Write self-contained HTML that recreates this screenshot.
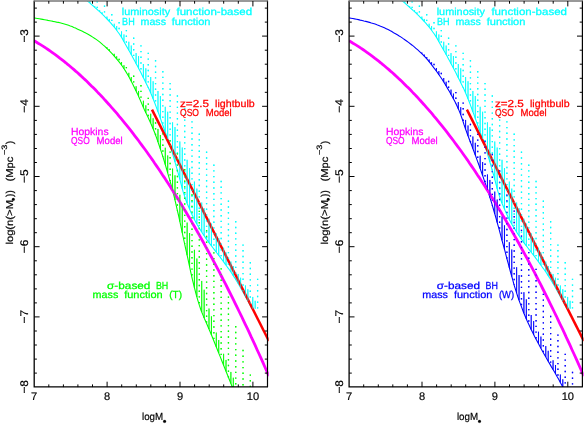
<!DOCTYPE html>
<html><head><meta charset="utf-8"><title>BH mass function</title>
<style>html,body{margin:0;padding:0;background:#fff}svg{display:block}</style></head>
<body>
<svg width="585" height="424" viewBox="0 0 585 424" font-family="'Liberation Sans', sans-serif" font-size="9.8" fill="#000" text-rendering="geometricPrecision">
<rect width="585" height="424" fill="#fff"/>
<g opacity="0.999">
<clipPath id="clip0"><rect x="34.2" y="1.0" width="234.5" height="386.1"/></clipPath>
<g clip-path="url(#clip0)">
<path d="M106.95,47.2V48.4M109.38,49.2V50.9M114.24,53.8V56.1M116.67,56.3V58.9M121.53,62.0V65.2M123.96,65.2V68.7M128.82,72.8V76.7M131.25,77.1V81.3M136.11,86.2V91.1M138.54,90.9V96.2M143.40,100.7V107.4M145.83,105.3V112.7M150.69,113.7V122.9M153.12,118.2V128.7M157.98,128.9V141.9M160.41,135.0V149.1M165.27,147.7V164.6M167.70,155.4V172.8M172.56,168.6V190.4M174.99,175.3V200.0M179.85,194.8V221.5M182.28,205.4V232.8M187.14,222.6V255.2M189.57,233.0V266.6M194.43,249.8V287.8M196.86,258.5V296.9M201.72,280.9V312.1M204.15,289.7V318.0M209.01,308.5V329.0M211.44,316.3V334.9M216.30,332.6V346.9M218.73,340.0V353.0M223.59,353.8V365.2M226.02,359.9V371.3M230.88,371.9V383.5M233.31,377.7V387.1" stroke="#0f0" stroke-width="0.9" fill="none"/>
<path d="M119.10,58.8V61.9M126.39,66.9V72.5M133.68,75.5V86.1M140.97,85.0V101.8M148.26,97.7V117.7M155.55,122.3V135.1M162.84,133.2V156.6M170.13,140.0V181.5M177.42,153.0V210.4M184.71,169.1V244.1M192.00,194.3V277.6M199.29,210.7V305.1M206.58,230.1V323.4M213.87,252.2V340.9M221.16,268.2V359.1M228.45,296.4V377.4M235.74,326.1V387.1M243.03,349.8V387.1M250.32,374.4V387.1" stroke="#0f0" stroke-width="1.3" stroke-dasharray="1.4 4.3" fill="none"/>
<path d="M34.2,17.9 L35.9,18.2 L37.6,18.5 L39.4,18.8 L41.1,19.1 L42.8,19.4 L44.5,19.7 L46.2,20.0 L48.0,20.4 L49.7,20.7 L51.4,21.0 L53.1,21.4 L54.9,21.7 L56.6,22.1 L58.3,22.4 L60.0,22.8 L61.7,23.2 L63.5,23.7 L65.2,24.2 L66.9,24.7 L68.6,25.3 L70.3,26.0 L72.1,26.6 L73.8,27.4 L75.5,28.1 L77.2,28.9 L78.9,29.7 L80.7,30.5 L82.4,31.3 L84.1,32.2 L85.8,33.1 L87.6,34.0 L89.3,35.0 L91.0,36.0 L92.7,37.1 L94.4,38.2 L96.2,39.4 L97.9,40.6 L99.6,41.9 L101.3,43.3 L103.0,44.8 L104.8,46.3 L106.5,48.0 L108.2,49.7 L109.9,51.4 L111.6,53.2 L113.4,55.1 L115.1,57.1 L116.8,59.1 L118.5,61.2 L120.3,63.4 L122.0,65.8 L123.7,68.3 L125.4,70.9 L127.1,73.7 L128.9,76.8 L130.6,80.0 L132.3,83.3 L134.0,86.8 L135.7,90.3 L137.5,93.9 L139.2,97.7 L140.9,101.6 L142.6,105.6 L144.3,109.5 L146.1,113.2 L147.8,116.8 L149.5,120.4 L151.2,124.2 L152.9,128.3 L154.7,132.7 L156.4,137.4 L158.1,142.3 L159.8,147.3 L161.6,152.6 L163.3,158.0 L165.0,163.6 L166.7,169.5 L168.4,175.4 L170.2,181.6 L171.9,187.9 L173.6,194.4 L175.3,201.3 L177.0,208.8 L178.8,216.5 L180.5,224.4 L182.2,232.5 L183.9,240.5 L185.6,248.4 L187.4,256.3 L189.1,264.4 L190.8,272.3 L192.5,279.9 L194.3,287.1 L196.0,293.8 L197.7,299.8 L199.4,305.4 L201.1,310.5 L202.9,314.9 L204.6,319.0 L206.3,322.8 L208.0,326.7 L209.7,330.8 L211.5,335.0 L213.2,339.2 L214.9,343.5 L216.6,347.8 L218.3,352.1 L220.1,356.4 L221.8,360.7 L223.5,365.0 L225.2,369.3 L227.0,373.7 L228.7,378.0 L230.4,382.3 L232.1,386.5 L233.8,390.8 L235.6,395.1 L237.3,399.3 L239.0,403.5" stroke="#0f0" stroke-width="1.1" fill="none"/>
<path d="M94.80,6.3V7.3M99.66,10.2V11.7M102.09,12.3V14.0M106.95,16.6V18.9M109.38,18.9V21.5M114.24,23.7V27.1M116.67,26.1V30.2M121.53,31.3V37.3M123.96,34.4V41.5M128.82,41.7V50.2M131.25,45.5V54.6M136.11,53.1V63.5M138.54,56.1V68.2M143.40,64.0V77.7M145.83,68.3V82.6M150.69,77.0V93.0M153.12,81.2V98.7M157.98,91.0V111.7M160.41,96.1V118.5M165.27,106.8V132.1M167.70,111.7V138.9M172.56,122.3V153.7M174.99,127.1V161.9M179.85,141.5V179.3M182.28,147.5V188.8M187.14,159.8V203.2M189.57,168.0V209.2M194.43,181.6V219.4M196.86,188.6V224.0M201.72,202.5V232.0M204.15,208.2V235.7M209.01,218.7V242.7M211.44,223.6V245.9M216.30,233.3V252.1M218.73,238.1V255.3M223.59,247.7V261.9M226.02,252.4V265.2M230.88,261.6V272.0M233.31,266.0V275.7M238.17,273.9V283.6M240.60,277.7V287.8M245.46,285.4V296.6M247.89,289.2V301.0M252.75,296.9V308.8M255.18,300.8V308.8" stroke="#0ff" stroke-width="0.9" fill="none"/>
<path d="M89.94,1.0V3.1M97.23,1.0V9.5M104.52,5.5V16.4M111.81,14.0V24.2M119.10,22.1V33.6M126.39,29.9V45.8M133.68,37.6V59.0M140.97,45.2V72.9M148.26,52.7V87.6M155.55,60.1V105.0M162.84,71.0V125.3M170.13,82.9V146.1M177.42,95.3V170.5M184.71,108.0V196.6M192.00,121.2V214.5M199.29,133.5V228.1M206.58,151.6V239.2M213.87,164.5V249.0M221.16,180.8V258.6M228.45,200.6V268.5M235.74,221.1V279.5M243.03,244.4V292.1M250.32,262.1V305.5M257.61,278.7V308.8" stroke="#0ff" stroke-width="1.3" stroke-dasharray="1.4 4.3" fill="none"/>
<path d="M84.0,-1.8 L85.4,-0.7 L86.8,0.5 L88.2,1.7 L89.7,2.9 L91.1,4.1 L92.5,5.3 L93.9,6.5 L95.3,7.8 L96.7,9.0 L98.1,10.3 L99.6,11.6 L101.0,12.9 L102.4,14.3 L103.8,15.6 L105.2,17.1 L106.6,18.5 L108.0,20.0 L109.5,21.6 L110.9,23.1 L112.3,24.8 L113.7,26.5 L115.1,28.2 L116.5,30.0 L117.9,32.0 L119.4,34.0 L120.8,36.1 L122.2,38.4 L123.6,40.9 L125.0,43.4 L126.4,45.9 L127.8,48.5 L129.3,51.0 L130.7,53.5 L132.1,56.1 L133.5,58.7 L134.9,61.3 L136.3,64.0 L137.7,66.6 L139.2,69.4 L140.6,72.1 L142.0,74.9 L143.4,77.7 L144.8,80.5 L146.2,83.4 L147.6,86.3 L149.1,89.3 L150.5,92.5 L151.9,95.7 L153.3,99.2 L154.7,102.8 L156.1,106.6 L157.5,110.5 L159.0,114.4 L160.4,118.4 L161.8,122.4 L163.2,126.3 L164.6,130.2 L166.0,134.2 L167.4,138.2 L168.9,142.3 L170.3,146.5 L171.7,150.9 L173.1,155.5 L174.5,160.3 L175.9,165.2 L177.3,170.2 L178.8,175.3 L180.2,180.5 L181.6,186.1 L183.0,191.4 L184.4,195.7 L185.8,199.7 L187.2,203.5 L188.7,207.0 L190.1,210.3 L191.5,213.4 L192.9,216.4 L194.3,219.2 L195.7,221.9 L197.1,224.5 L198.6,226.9 L200.0,229.2 L201.4,231.5 L202.8,233.7 L204.2,235.8 L205.6,237.9 L207.0,239.9 L208.5,241.9 L209.9,243.9 L211.3,245.7 L212.7,247.5 L214.1,249.3 L215.5,251.1 L216.9,253.0 L218.4,254.9 L219.8,256.7 L221.2,258.6 L222.6,260.5 L224.0,262.4 L225.4,264.3 L226.8,266.3 L228.3,268.3 L229.7,270.3 L231.1,272.3 L232.5,274.4 L233.9,276.6 L235.3,278.8 L236.7,281.2 L238.2,283.5 L239.6,286.0 L241.0,288.5 L242.4,291.0 L243.8,293.6 L245.2,296.1 L246.6,298.7 L248.1,301.3 L249.5,303.9 L250.9,306.5 L252.3,308.8" stroke="#0ff" stroke-width="1.1" fill="none"/>
<path d="M34.2,40.8 L36.2,42.0 L38.1,43.2 L40.1,44.4 L42.1,45.6 L44.1,46.9 L46.0,48.2 L48.0,49.5 L50.0,50.9 L52.0,52.3 L53.9,53.7 L55.9,55.1 L57.9,56.6 L59.8,58.1 L61.8,59.6 L63.8,61.2 L65.8,62.8 L67.7,64.4 L69.7,66.0 L71.7,67.7 L73.7,69.4 L75.6,71.1 L77.6,72.8 L79.6,74.6 L81.6,76.4 L83.5,78.3 L85.5,80.1 L87.5,82.0 L89.4,83.9 L91.4,85.9 L93.4,87.8 L95.4,89.8 L97.3,91.9 L99.3,93.9 L101.3,96.0 L103.3,98.1 L105.2,100.3 L107.2,102.5 L109.2,104.7 L111.1,106.9 L113.1,109.1 L115.1,111.4 L117.1,113.7 L119.0,116.1 L121.0,118.4 L123.0,120.8 L125.0,123.3 L126.9,125.7 L128.9,128.2 L130.9,130.7 L132.8,133.2 L134.8,135.8 L136.8,138.4 L138.8,141.0 L140.7,143.7 L142.7,146.3 L144.7,149.0 L146.7,151.8 L148.6,154.5 L150.6,157.3 L152.6,160.1 L154.5,163.0 L156.5,165.9 L158.5,168.8 L160.5,171.7 L162.4,174.7 L164.4,177.6 L166.4,180.7 L168.4,183.7 L170.3,186.8 L172.3,189.9 L174.3,193.0 L176.3,196.2 L178.2,199.3 L180.2,202.5 L182.2,205.8 L184.1,209.1 L186.1,212.3 L188.1,215.7 L190.1,219.0 L192.0,222.4 L194.0,225.8 L196.0,229.2 L198.0,232.7 L199.9,236.2 L201.9,239.7 L203.9,243.3 L205.8,246.9 L207.8,250.5 L209.8,254.1 L211.8,257.7 L213.7,261.4 L215.7,265.2 L217.7,268.9 L219.7,272.7 L221.6,276.5 L223.6,280.3 L225.6,284.2 L227.5,288.0 L229.5,292.0 L231.5,295.9 L233.5,299.9 L235.4,303.9 L237.4,307.9 L239.4,312.0 L241.4,316.0 L243.3,320.1 L245.3,324.3 L247.3,328.4 L249.3,332.6 L251.2,336.9 L253.2,341.1 L255.2,345.4 L257.1,349.7 L259.1,354.0 L261.1,358.4 L263.1,362.8 L265.0,367.2 L267.0,371.7 L269.0,376.1" stroke="#f0f" stroke-width="2.8" fill="none"/>
<path d="M152.0,109.6L268.9,340.98" stroke="#f00" stroke-width="2.5" fill="none"/>
<g opacity="0.62"><path d="M94.80,6.3V7.3M99.66,10.2V11.7M102.09,12.3V14.0M106.95,16.6V18.9M109.38,18.9V21.5M114.24,23.7V27.1M116.67,26.1V30.2M121.53,31.3V37.3M123.96,34.4V41.5M128.82,41.7V50.2M131.25,45.5V54.6M136.11,53.1V63.5M138.54,56.1V68.2M143.40,64.0V77.7M145.83,68.3V82.6M150.69,77.0V93.0M153.12,81.2V98.7M157.98,91.0V111.7M160.41,96.1V118.5M165.27,106.8V132.1M167.70,111.7V138.9M172.56,122.3V153.7M174.99,127.1V161.9M179.85,141.5V179.3M182.28,147.5V188.8M187.14,159.8V203.2M189.57,168.0V209.2M194.43,181.6V219.4M196.86,188.6V224.0M201.72,202.5V232.0M204.15,208.2V235.7M209.01,218.7V242.7M211.44,223.6V245.9M216.30,233.3V252.1M218.73,238.1V255.3M223.59,247.7V261.9M226.02,252.4V265.2M230.88,261.6V272.0M233.31,266.0V275.7M238.17,273.9V283.6M240.60,277.7V287.8M245.46,285.4V296.6M247.89,289.2V301.0M252.75,296.9V308.8M255.18,300.8V308.8" stroke="#0ff" stroke-width="1.1" fill="none"/><path d="M89.94,1.0V3.1M97.23,1.0V9.5M104.52,5.5V16.4M111.81,14.0V24.2M119.10,22.1V33.6M126.39,29.9V45.8M133.68,37.6V59.0M140.97,45.2V72.9M148.26,52.7V87.6M155.55,60.1V105.0M162.84,71.0V125.3M170.13,82.9V146.1M177.42,95.3V170.5M184.71,108.0V196.6M192.00,121.2V214.5M199.29,133.5V228.1M206.58,151.6V239.2M213.87,164.5V249.0M221.16,180.8V258.6M228.45,200.6V268.5M235.74,221.1V279.5M243.03,244.4V292.1M250.32,262.1V305.5M257.61,278.7V308.8" stroke="#0ff" stroke-width="1.3" stroke-dasharray="1.4 4.3" fill="none"/><path d="M106.95,47.2V48.4M109.38,49.2V50.9M114.24,53.8V56.1M116.67,56.3V58.9M121.53,62.0V65.2M123.96,65.2V68.7M128.82,72.8V76.7M131.25,77.1V81.3M136.11,86.2V91.1M138.54,90.9V96.2M143.40,100.7V107.4M145.83,105.3V112.7M150.69,113.7V122.9M153.12,118.2V128.7M157.98,128.9V141.9M160.41,135.0V149.1M165.27,147.7V164.6M167.70,155.4V172.8M172.56,168.6V190.4M174.99,175.3V200.0M179.85,194.8V221.5M182.28,205.4V232.8M187.14,222.6V255.2M189.57,233.0V266.6M194.43,249.8V287.8M196.86,258.5V296.9M201.72,280.9V312.1M204.15,289.7V318.0M209.01,308.5V329.0M211.44,316.3V334.9M216.30,332.6V346.9M218.73,340.0V353.0M223.59,353.8V365.2M226.02,359.9V371.3M230.88,371.9V383.5M233.31,377.7V387.1" stroke="#0f0" stroke-width="1.1" fill="none"/><path d="M119.10,58.8V61.9M126.39,66.9V72.5M133.68,75.5V86.1M140.97,85.0V101.8M148.26,97.7V117.7M155.55,122.3V135.1M162.84,133.2V156.6M170.13,140.0V181.5M177.42,153.0V210.4M184.71,169.1V244.1M192.00,194.3V277.6M199.29,210.7V305.1M206.58,230.1V323.4M213.87,252.2V340.9M221.16,268.2V359.1M228.45,296.4V377.4M235.74,326.1V387.1M243.03,349.8V387.1M250.32,374.4V387.1" stroke="#0f0" stroke-width="1.3" stroke-dasharray="1.4 4.3" fill="none"/></g>
</g>
<text transform="translate(0,15.4) scale(1,1.2)" fill="#0ff" stroke="#0ff" stroke-width="0.22" font-size="8.5"><tspan x="121.8" textLength="48.3" lengthAdjust="spacingAndGlyphs">luminosity</tspan> <tspan x="176.5" textLength="75.6" lengthAdjust="spacingAndGlyphs">function-based</tspan></text>
<text transform="translate(0,24.9) scale(1,1.2)" fill="#0ff" stroke="#0ff" stroke-width="0.22" font-size="8.5"><tspan x="122.1" textLength="12.6" lengthAdjust="spacingAndGlyphs">BH</tspan> <tspan x="140.6" textLength="25.4" lengthAdjust="spacingAndGlyphs">mass</tspan> <tspan x="171.8" textLength="38.7" lengthAdjust="spacingAndGlyphs">function</tspan></text>
<text transform="translate(0,106.6) scale(1,1.2)" fill="#f00" stroke="#f00" stroke-width="0.22" font-size="8.5"><tspan x="180.0" textLength="29.0" lengthAdjust="spacingAndGlyphs">z=2.5</tspan> <tspan x="215.1" textLength="39.6" lengthAdjust="spacingAndGlyphs">lightbulb</tspan></text>
<text transform="translate(0,115.5) scale(1,1.2)" fill="#f00" stroke="#f00" stroke-width="0.22" font-size="8.5"><tspan x="180.0" textLength="19.0" lengthAdjust="spacingAndGlyphs">QSO</tspan> <tspan x="205.7" textLength="26.0" lengthAdjust="spacingAndGlyphs">Model</tspan></text>
<text transform="translate(0,134.8) scale(1,1.2)" fill="#f0f" stroke="#f0f" stroke-width="0.22" font-size="8.5"><tspan x="71.0" textLength="37.6" lengthAdjust="spacingAndGlyphs">Hopkins</tspan></text>
<text transform="translate(0,144.0) scale(1,1.2)" fill="#f0f" stroke="#f0f" stroke-width="0.22" font-size="8.5"><tspan x="71.0" textLength="18.7" lengthAdjust="spacingAndGlyphs">QSO</tspan> <tspan x="96.6" textLength="26.1" lengthAdjust="spacingAndGlyphs">Model</tspan></text>
<text transform="translate(0,289.2) scale(1,1.2)" fill="#0f0" stroke="#0f0" stroke-width="0.22" font-size="8.5"><tspan x="107.1" textLength="43.3" lengthAdjust="spacingAndGlyphs">σ-based</tspan> <tspan x="155.9" textLength="12.4" lengthAdjust="spacingAndGlyphs">BH</tspan></text>
<text transform="translate(0,298.2) scale(1,1.2)" fill="#0f0" stroke="#0f0" stroke-width="0.22" font-size="8.5"><tspan x="92.6" textLength="25.7" lengthAdjust="spacingAndGlyphs">mass</tspan> <tspan x="124.2" textLength="38.5" lengthAdjust="spacingAndGlyphs">function</tspan> <tspan x="169.2" textLength="12.8" lengthAdjust="spacingAndGlyphs">(T)</tspan></text>
<path d="M34.2,0.4V386.9H268.0" fill="none" stroke="#000" stroke-width="1.3" stroke-linejoin="miter"/>
<path d="M267.5,0.4V387.1" fill="none" stroke="#000" stroke-width="1.2"/>
<path d="M34.2,1.1H267.5" fill="none" stroke="#777" stroke-width="1.5"/>
<path d="M48.8,387.1v-2.7M48.8,1.0v2.7M63.4,387.1v-2.7M63.4,1.0v2.7M77.9,387.1v-2.7M77.9,1.0v2.7M92.5,387.1v-2.7M92.5,1.0v2.7M107.1,387.1v-5.4M107.1,1.0v5.4M121.7,387.1v-2.7M121.7,1.0v2.7M136.3,387.1v-2.7M136.3,1.0v2.7M150.8,387.1v-2.7M150.8,1.0v2.7M165.4,387.1v-2.7M165.4,1.0v2.7M180.0,387.1v-5.4M180.0,1.0v5.4M194.6,387.1v-2.7M194.6,1.0v2.7M209.2,387.1v-2.7M209.2,1.0v2.7M223.7,387.1v-2.7M223.7,1.0v2.7M238.3,387.1v-2.7M238.3,1.0v2.7M252.9,387.1v-5.4M252.9,1.0v5.4M34.2,373.1h2.7M267.5,373.1h-2.7M34.2,359.1h2.7M267.5,359.1h-2.7M34.2,345.0h2.7M267.5,345.0h-2.7M34.2,331.0h2.7M267.5,331.0h-2.7M34.2,316.9h5.4M267.5,316.9h-5.4M34.2,302.9h2.7M267.5,302.9h-2.7M34.2,288.9h2.7M267.5,288.9h-2.7M34.2,274.8h2.7M267.5,274.8h-2.7M34.2,260.8h2.7M267.5,260.8h-2.7M34.2,246.7h5.4M267.5,246.7h-5.4M34.2,232.7h2.7M267.5,232.7h-2.7M34.2,218.7h2.7M267.5,218.7h-2.7M34.2,204.6h2.7M267.5,204.6h-2.7M34.2,190.6h2.7M267.5,190.6h-2.7M34.2,176.5h5.4M267.5,176.5h-5.4M34.2,162.5h2.7M267.5,162.5h-2.7M34.2,148.5h2.7M267.5,148.5h-2.7M34.2,134.4h2.7M267.5,134.4h-2.7M34.2,120.4h2.7M267.5,120.4h-2.7M34.2,106.3h5.4M267.5,106.3h-5.4M34.2,92.3h2.7M267.5,92.3h-2.7M34.2,78.3h2.7M267.5,78.3h-2.7M34.2,64.2h2.7M267.5,64.2h-2.7M34.2,50.2h2.7M267.5,50.2h-2.7M34.2,36.1h5.4M267.5,36.1h-5.4M34.2,22.1h2.7M267.5,22.1h-2.7M34.2,8.1h2.7M267.5,8.1h-2.7" stroke="#000" stroke-width="1" fill="none"/>
<g stroke="#000" stroke-width="0.2">
<text x="34.2" y="400.1" font-size="11.1" text-anchor="middle">7</text>
<text x="107.1" y="400.1" font-size="11.1" text-anchor="middle">8</text>
<text x="180.0" y="400.1" font-size="11.1" text-anchor="middle">9</text>
<text x="252.9" y="400.1" font-size="11.1" text-anchor="middle">10</text>
<text transform="translate(28.0,35.8) rotate(-90)" font-size="11.1" text-anchor="middle" textLength="13.6" lengthAdjust="spacingAndGlyphs">−3</text>
<text transform="translate(28.0,106.0) rotate(-90)" font-size="11.1" text-anchor="middle" textLength="13.6" lengthAdjust="spacingAndGlyphs">−4</text>
<text transform="translate(28.0,176.2) rotate(-90)" font-size="11.1" text-anchor="middle" textLength="13.6" lengthAdjust="spacingAndGlyphs">−5</text>
<text transform="translate(28.0,246.4) rotate(-90)" font-size="11.1" text-anchor="middle" textLength="13.6" lengthAdjust="spacingAndGlyphs">−6</text>
<text transform="translate(28.0,316.6) rotate(-90)" font-size="11.1" text-anchor="middle" textLength="13.6" lengthAdjust="spacingAndGlyphs">−7</text>
<text transform="translate(28.0,386.8) rotate(-90)" font-size="11.1" text-anchor="middle" textLength="13.6" lengthAdjust="spacingAndGlyphs">−8</text>
<text x="142.0" y="420.3" font-size="10.3" textLength="21.2" lengthAdjust="spacingAndGlyphs">logM</text>
<circle cx="164.6" cy="421.4" r="1.45" fill="#000"/>
<g transform="translate(12.7,244.6) rotate(-90)" font-size="10"><text x="0" y="0" textLength="44.6" lengthAdjust="spacingAndGlyphs">log(n(&gt;M</text><circle cx="45.2" cy="0.6" r="1.4" fill="#000"/><text x="47.6" y="0" textLength="6.8" lengthAdjust="spacingAndGlyphs">))</text><text x="63.1" y="0" textLength="24.9" lengthAdjust="spacingAndGlyphs">(Mpc</text><text x="89.6" y="-5.9" font-size="7.8" textLength="10.4" lengthAdjust="spacingAndGlyphs">−3</text><text x="100.4" y="0" textLength="3.5" lengthAdjust="spacingAndGlyphs">)</text></g>
</g>
<clipPath id="clip314"><rect x="349.1" y="1.0" width="234.5" height="386.1"/></clipPath>
<g clip-path="url(#clip314)">
<path d="M421.85,52.5V53.8M424.28,54.6V56.2M429.14,59.4V61.7M431.57,62.2V64.8M436.43,68.0V71.2M438.86,71.1V74.6M443.72,78.0V81.9M446.15,81.7V85.9M451.01,89.6V94.4M453.44,93.6V98.9M458.30,102.1V108.8M460.73,107.2V114.7M465.59,119.9V129.1M468.02,125.4V135.8M472.88,136.5V148.6M475.31,142.8V155.1M480.17,155.7V168.5M482.60,162.0V175.4M487.46,174.4V189.9M489.89,179.9V197.5M494.75,191.6V213.7M497.18,199.5V222.4M502.04,216.6V240.3M504.47,225.3V249.4M509.33,242.2V267.7M511.76,249.5V276.5M516.62,267.2V293.1M519.05,275.0V300.2M523.91,292.2V313.2M526.34,299.3V319.0M531.20,315.0V329.5M533.63,321.1V334.5M538.49,331.7V343.8M540.92,336.6V348.3M545.78,346.1V356.9M548.21,350.8V361.2M553.07,360.3V369.6M555.50,365.0V373.8M560.36,374.5V382.5M562.79,379.3V387.0" stroke="#00f" stroke-width="0.9" fill="none"/>
<path d="M426.71,57.2V58.9M434.00,63.8V68.0M441.29,72.8V78.1M448.58,80.8V90.1M455.87,91.9V103.6M463.16,102.4V121.9M470.45,123.8V142.2M477.74,133.7V161.8M485.03,140.8V182.6M492.32,153.8V205.4M499.61,170.3V231.2M506.90,194.6V258.6M514.19,210.4V285.1M521.48,229.7V307.0M528.77,251.9V324.4M536.06,268.7V339.2M543.35,293.7V352.6M550.64,315.8V365.4M557.93,334.4V378.1M565.22,353.7V387.1M572.51,371.8V387.1" stroke="#00f" stroke-width="1.3" stroke-dasharray="1.4 4.3" fill="none"/>
<path d="M349.1,17.9 L351.0,18.2 L352.8,18.5 L354.7,18.9 L356.5,19.2 L358.4,19.6 L360.2,20.1 L362.1,20.5 L363.9,21.0 L365.8,21.4 L367.7,21.9 L369.5,22.4 L371.4,23.0 L373.2,23.5 L375.1,24.1 L376.9,24.8 L378.8,25.4 L380.6,26.2 L382.5,26.9 L384.4,27.8 L386.2,28.7 L388.1,29.6 L389.9,30.6 L391.8,31.6 L393.6,32.7 L395.5,33.7 L397.3,34.8 L399.2,36.0 L401.1,37.1 L402.9,38.4 L404.8,39.7 L406.6,41.0 L408.5,42.4 L410.3,43.8 L412.2,45.2 L414.0,46.7 L415.9,48.3 L417.8,49.9 L419.6,51.6 L421.5,53.4 L423.3,55.2 L425.2,57.2 L427.0,59.2 L428.9,61.4 L430.7,63.7 L432.6,66.1 L434.5,68.6 L436.3,71.0 L438.2,73.6 L440.0,76.2 L441.9,79.0 L443.7,81.9 L445.6,85.0 L447.4,88.1 L449.3,91.3 L451.2,94.7 L453.0,98.1 L454.9,101.6 L456.7,105.3 L458.6,109.4 L460.4,113.9 L462.3,119.2 L464.1,124.9 L466.0,130.3 L467.8,135.3 L469.7,140.2 L471.6,145.1 L473.4,150.0 L475.3,155.0 L477.1,160.1 L479.0,165.2 L480.8,170.4 L482.7,175.7 L484.5,181.1 L486.4,186.7 L488.3,192.4 L490.1,198.2 L492.0,204.2 L493.8,210.5 L495.7,217.0 L497.5,223.7 L499.4,230.4 L501.2,237.3 L503.1,244.3 L505.0,251.2 L506.8,258.3 L508.7,265.2 L510.5,272.0 L512.4,278.7 L514.2,285.3 L516.1,291.4 L517.9,297.0 L519.8,302.4 L521.7,307.4 L523.5,312.2 L525.4,316.7 L527.2,321.0 L529.1,325.0 L530.9,329.0 L532.8,332.8 L534.6,336.5 L536.5,340.1 L538.4,343.6 L540.2,347.0 L542.1,350.4 L543.9,353.7 L545.8,356.9 L547.6,360.2 L549.5,363.4 L551.3,366.6 L553.2,369.8 L555.1,373.0 L556.9,376.3 L558.8,379.6 L560.6,383.0 L562.5,386.4 L564.3,389.9 L566.2,393.4 L568.0,396.9 L569.9,400.3" stroke="#00f" stroke-width="1.1" fill="none"/>
<path d="M409.70,6.3V7.3M414.56,10.2V11.7M416.99,12.3V14.0M421.85,16.6V18.9M424.28,18.9V21.5M429.14,23.7V27.1M431.57,26.1V30.2M436.43,31.3V37.3M438.86,34.4V41.5M443.72,41.7V50.2M446.15,45.5V54.6M451.01,53.1V63.5M453.44,56.1V68.2M458.30,64.0V77.7M460.73,68.3V82.6M465.59,77.0V93.0M468.02,81.2V98.7M472.88,91.0V111.7M475.31,96.1V118.5M480.17,106.8V132.1M482.60,111.7V138.9M487.46,122.3V153.7M489.89,127.1V161.9M494.75,141.5V179.3M497.18,147.5V188.8M502.04,159.8V203.2M504.47,168.0V209.2M509.33,181.6V219.4M511.76,188.6V224.0M516.62,202.5V232.0M519.05,208.2V235.7M523.91,218.7V242.7M526.34,223.6V245.9M531.20,233.3V252.1M533.63,238.1V255.3M538.49,247.7V261.9M540.92,252.4V265.2M545.78,261.6V272.0M548.21,266.0V275.7M553.07,273.9V283.6M555.50,277.7V287.8M560.36,285.4V296.6M562.79,289.2V301.0M567.65,296.9V308.8M570.08,300.8V308.8" stroke="#0ff" stroke-width="0.9" fill="none"/>
<path d="M404.84,1.0V3.1M412.13,1.0V9.5M419.42,5.5V16.4M426.71,14.0V24.2M434.00,22.1V33.6M441.29,29.9V45.8M448.58,37.6V59.0M455.87,45.2V72.9M463.16,52.7V87.6M470.45,60.1V105.0M477.74,71.0V125.3M485.03,82.9V146.1M492.32,95.3V170.5M499.61,108.0V196.6M506.90,121.2V214.5M514.19,133.5V228.1M521.48,151.6V239.2M528.77,164.5V249.0M536.06,180.8V258.6M543.35,200.6V268.5M550.64,221.1V279.5M557.93,244.4V292.1M565.22,262.1V305.5M572.51,278.7V308.8" stroke="#0ff" stroke-width="1.3" stroke-dasharray="1.4 4.3" fill="none"/>
<path d="M398.9,-1.8 L400.3,-0.7 L401.7,0.5 L403.1,1.7 L404.6,2.9 L406.0,4.1 L407.4,5.3 L408.8,6.5 L410.2,7.8 L411.6,9.0 L413.0,10.3 L414.5,11.6 L415.9,12.9 L417.3,14.3 L418.7,15.6 L420.1,17.1 L421.5,18.5 L422.9,20.0 L424.4,21.6 L425.8,23.1 L427.2,24.8 L428.6,26.5 L430.0,28.2 L431.4,30.0 L432.8,32.0 L434.3,34.0 L435.7,36.1 L437.1,38.4 L438.5,40.9 L439.9,43.4 L441.3,45.9 L442.7,48.5 L444.2,51.0 L445.6,53.5 L447.0,56.1 L448.4,58.7 L449.8,61.3 L451.2,64.0 L452.6,66.6 L454.1,69.4 L455.5,72.1 L456.9,74.9 L458.3,77.7 L459.7,80.5 L461.1,83.4 L462.5,86.3 L464.0,89.3 L465.4,92.5 L466.8,95.7 L468.2,99.2 L469.6,102.8 L471.0,106.6 L472.4,110.5 L473.9,114.4 L475.3,118.4 L476.7,122.4 L478.1,126.3 L479.5,130.2 L480.9,134.2 L482.3,138.2 L483.8,142.3 L485.2,146.5 L486.6,150.9 L488.0,155.5 L489.4,160.3 L490.8,165.2 L492.2,170.2 L493.7,175.3 L495.1,180.5 L496.5,186.1 L497.9,191.4 L499.3,195.7 L500.7,199.7 L502.1,203.5 L503.6,207.0 L505.0,210.3 L506.4,213.4 L507.8,216.4 L509.2,219.2 L510.6,221.9 L512.0,224.5 L513.5,226.9 L514.9,229.2 L516.3,231.5 L517.7,233.7 L519.1,235.8 L520.5,237.9 L521.9,239.9 L523.4,241.9 L524.8,243.9 L526.2,245.7 L527.6,247.5 L529.0,249.3 L530.4,251.1 L531.8,253.0 L533.3,254.9 L534.7,256.7 L536.1,258.6 L537.5,260.5 L538.9,262.4 L540.3,264.3 L541.7,266.3 L543.2,268.3 L544.6,270.3 L546.0,272.3 L547.4,274.4 L548.8,276.6 L550.2,278.8 L551.6,281.2 L553.1,283.5 L554.5,286.0 L555.9,288.5 L557.3,291.0 L558.7,293.6 L560.1,296.1 L561.5,298.7 L563.0,301.3 L564.4,303.9 L565.8,306.5 L567.2,308.8" stroke="#0ff" stroke-width="1.1" fill="none"/>
<path d="M349.1,40.8 L351.1,42.0 L353.0,43.2 L355.0,44.4 L357.0,45.6 L359.0,46.9 L360.9,48.2 L362.9,49.5 L364.9,50.9 L366.9,52.3 L368.8,53.7 L370.8,55.1 L372.8,56.6 L374.7,58.1 L376.7,59.6 L378.7,61.2 L380.7,62.8 L382.6,64.4 L384.6,66.0 L386.6,67.7 L388.6,69.4 L390.5,71.1 L392.5,72.8 L394.5,74.6 L396.5,76.4 L398.4,78.3 L400.4,80.1 L402.4,82.0 L404.3,83.9 L406.3,85.9 L408.3,87.8 L410.3,89.8 L412.2,91.9 L414.2,93.9 L416.2,96.0 L418.2,98.1 L420.1,100.3 L422.1,102.5 L424.1,104.7 L426.0,106.9 L428.0,109.1 L430.0,111.4 L432.0,113.7 L433.9,116.1 L435.9,118.4 L437.9,120.8 L439.9,123.3 L441.8,125.7 L443.8,128.2 L445.8,130.7 L447.7,133.2 L449.7,135.8 L451.7,138.4 L453.7,141.0 L455.6,143.7 L457.6,146.3 L459.6,149.0 L461.6,151.8 L463.5,154.5 L465.5,157.3 L467.5,160.1 L469.4,163.0 L471.4,165.9 L473.4,168.8 L475.4,171.7 L477.3,174.7 L479.3,177.6 L481.3,180.7 L483.3,183.7 L485.2,186.8 L487.2,189.9 L489.2,193.0 L491.2,196.2 L493.1,199.3 L495.1,202.5 L497.1,205.8 L499.0,209.1 L501.0,212.3 L503.0,215.7 L505.0,219.0 L506.9,222.4 L508.9,225.8 L510.9,229.2 L512.9,232.7 L514.8,236.2 L516.8,239.7 L518.8,243.3 L520.7,246.9 L522.7,250.5 L524.7,254.1 L526.7,257.7 L528.6,261.4 L530.6,265.2 L532.6,268.9 L534.6,272.7 L536.5,276.5 L538.5,280.3 L540.5,284.2 L542.4,288.0 L544.4,292.0 L546.4,295.9 L548.4,299.9 L550.3,303.9 L552.3,307.9 L554.3,312.0 L556.3,316.0 L558.2,320.1 L560.2,324.3 L562.2,328.4 L564.2,332.6 L566.1,336.9 L568.1,341.1 L570.1,345.4 L572.0,349.7 L574.0,354.0 L576.0,358.4 L578.0,362.8 L579.9,367.2 L581.9,371.7 L583.9,376.1" stroke="#f0f" stroke-width="2.8" fill="none"/>
<path d="M466.9,109.6L583.8,340.98" stroke="#f00" stroke-width="2.5" fill="none"/>
<g opacity="0.62"><path d="M409.70,6.3V7.3M414.56,10.2V11.7M416.99,12.3V14.0M421.85,16.6V18.9M424.28,18.9V21.5M429.14,23.7V27.1M431.57,26.1V30.2M436.43,31.3V37.3M438.86,34.4V41.5M443.72,41.7V50.2M446.15,45.5V54.6M451.01,53.1V63.5M453.44,56.1V68.2M458.30,64.0V77.7M460.73,68.3V82.6M465.59,77.0V93.0M468.02,81.2V98.7M472.88,91.0V111.7M475.31,96.1V118.5M480.17,106.8V132.1M482.60,111.7V138.9M487.46,122.3V153.7M489.89,127.1V161.9M494.75,141.5V179.3M497.18,147.5V188.8M502.04,159.8V203.2M504.47,168.0V209.2M509.33,181.6V219.4M511.76,188.6V224.0M516.62,202.5V232.0M519.05,208.2V235.7M523.91,218.7V242.7M526.34,223.6V245.9M531.20,233.3V252.1M533.63,238.1V255.3M538.49,247.7V261.9M540.92,252.4V265.2M545.78,261.6V272.0M548.21,266.0V275.7M553.07,273.9V283.6M555.50,277.7V287.8M560.36,285.4V296.6M562.79,289.2V301.0M567.65,296.9V308.8M570.08,300.8V308.8" stroke="#0ff" stroke-width="1.1" fill="none"/><path d="M404.84,1.0V3.1M412.13,1.0V9.5M419.42,5.5V16.4M426.71,14.0V24.2M434.00,22.1V33.6M441.29,29.9V45.8M448.58,37.6V59.0M455.87,45.2V72.9M463.16,52.7V87.6M470.45,60.1V105.0M477.74,71.0V125.3M485.03,82.9V146.1M492.32,95.3V170.5M499.61,108.0V196.6M506.90,121.2V214.5M514.19,133.5V228.1M521.48,151.6V239.2M528.77,164.5V249.0M536.06,180.8V258.6M543.35,200.6V268.5M550.64,221.1V279.5M557.93,244.4V292.1M565.22,262.1V305.5M572.51,278.7V308.8" stroke="#0ff" stroke-width="1.3" stroke-dasharray="1.4 4.3" fill="none"/><path d="M421.85,52.5V53.8M424.28,54.6V56.2M429.14,59.4V61.7M431.57,62.2V64.8M436.43,68.0V71.2M438.86,71.1V74.6M443.72,78.0V81.9M446.15,81.7V85.9M451.01,89.6V94.4M453.44,93.6V98.9M458.30,102.1V108.8M460.73,107.2V114.7M465.59,119.9V129.1M468.02,125.4V135.8M472.88,136.5V148.6M475.31,142.8V155.1M480.17,155.7V168.5M482.60,162.0V175.4M487.46,174.4V189.9M489.89,179.9V197.5M494.75,191.6V213.7M497.18,199.5V222.4M502.04,216.6V240.3M504.47,225.3V249.4M509.33,242.2V267.7M511.76,249.5V276.5M516.62,267.2V293.1M519.05,275.0V300.2M523.91,292.2V313.2M526.34,299.3V319.0M531.20,315.0V329.5M533.63,321.1V334.5M538.49,331.7V343.8M540.92,336.6V348.3M545.78,346.1V356.9M548.21,350.8V361.2M553.07,360.3V369.6M555.50,365.0V373.8M560.36,374.5V382.5M562.79,379.3V387.0" stroke="#00f" stroke-width="1.1" fill="none"/><path d="M426.71,57.2V58.9M434.00,63.8V68.0M441.29,72.8V78.1M448.58,80.8V90.1M455.87,91.9V103.6M463.16,102.4V121.9M470.45,123.8V142.2M477.74,133.7V161.8M485.03,140.8V182.6M492.32,153.8V205.4M499.61,170.3V231.2M506.90,194.6V258.6M514.19,210.4V285.1M521.48,229.7V307.0M528.77,251.9V324.4M536.06,268.7V339.2M543.35,293.7V352.6M550.64,315.8V365.4M557.93,334.4V378.1M565.22,353.7V387.1M572.51,371.8V387.1" stroke="#00f" stroke-width="1.3" stroke-dasharray="1.4 4.3" fill="none"/></g>
</g>
<text transform="translate(0,15.4) scale(1,1.2)" fill="#0ff" stroke="#0ff" stroke-width="0.22" font-size="8.5"><tspan x="436.7" textLength="48.3" lengthAdjust="spacingAndGlyphs">luminosity</tspan> <tspan x="491.4" textLength="75.6" lengthAdjust="spacingAndGlyphs">function-based</tspan></text>
<text transform="translate(0,24.9) scale(1,1.2)" fill="#0ff" stroke="#0ff" stroke-width="0.22" font-size="8.5"><tspan x="437.0" textLength="12.6" lengthAdjust="spacingAndGlyphs">BH</tspan> <tspan x="455.5" textLength="25.4" lengthAdjust="spacingAndGlyphs">mass</tspan> <tspan x="486.7" textLength="38.7" lengthAdjust="spacingAndGlyphs">function</tspan></text>
<text transform="translate(0,106.6) scale(1,1.2)" fill="#f00" stroke="#f00" stroke-width="0.22" font-size="8.5"><tspan x="494.9" textLength="29.0" lengthAdjust="spacingAndGlyphs">z=2.5</tspan> <tspan x="530.0" textLength="39.6" lengthAdjust="spacingAndGlyphs">lightbulb</tspan></text>
<text transform="translate(0,115.5) scale(1,1.2)" fill="#f00" stroke="#f00" stroke-width="0.22" font-size="8.5"><tspan x="494.9" textLength="19.0" lengthAdjust="spacingAndGlyphs">QSO</tspan> <tspan x="520.6" textLength="26.0" lengthAdjust="spacingAndGlyphs">Model</tspan></text>
<text transform="translate(0,134.8) scale(1,1.2)" fill="#f0f" stroke="#f0f" stroke-width="0.22" font-size="8.5"><tspan x="385.9" textLength="37.6" lengthAdjust="spacingAndGlyphs">Hopkins</tspan></text>
<text transform="translate(0,144.0) scale(1,1.2)" fill="#f0f" stroke="#f0f" stroke-width="0.22" font-size="8.5"><tspan x="385.9" textLength="18.7" lengthAdjust="spacingAndGlyphs">QSO</tspan> <tspan x="411.5" textLength="26.1" lengthAdjust="spacingAndGlyphs">Model</tspan></text>
<text transform="translate(0,289.2) scale(1,1.2)" fill="#00f" stroke="#00f" stroke-width="0.22" font-size="8.5"><tspan x="436.8" textLength="43.3" lengthAdjust="spacingAndGlyphs">σ-based</tspan> <tspan x="485.6" textLength="12.4" lengthAdjust="spacingAndGlyphs">BH</tspan></text>
<text transform="translate(0,298.2) scale(1,1.2)" fill="#00f" stroke="#00f" stroke-width="0.22" font-size="8.5"><tspan x="422.3" textLength="25.7" lengthAdjust="spacingAndGlyphs">mass</tspan> <tspan x="453.9" textLength="38.5" lengthAdjust="spacingAndGlyphs">function</tspan> <tspan x="498.9" textLength="15.2" lengthAdjust="spacingAndGlyphs">(W)</tspan></text>
<path d="M349.1,0.4V386.9H582.9" fill="none" stroke="#000" stroke-width="1.3" stroke-linejoin="miter"/>
<path d="M582.4,0.4V387.1" fill="none" stroke="#000" stroke-width="1.2"/>
<path d="M349.1,1.1H582.4" fill="none" stroke="#777" stroke-width="1.5"/>
<path d="M363.7,387.1v-2.7M363.7,1.0v2.7M378.3,387.1v-2.7M378.3,1.0v2.7M392.8,387.1v-2.7M392.8,1.0v2.7M407.4,387.1v-2.7M407.4,1.0v2.7M422.0,387.1v-5.4M422.0,1.0v5.4M436.6,387.1v-2.7M436.6,1.0v2.7M451.2,387.1v-2.7M451.2,1.0v2.7M465.7,387.1v-2.7M465.7,1.0v2.7M480.3,387.1v-2.7M480.3,1.0v2.7M494.9,387.1v-5.4M494.9,1.0v5.4M509.5,387.1v-2.7M509.5,1.0v2.7M524.1,387.1v-2.7M524.1,1.0v2.7M538.6,387.1v-2.7M538.6,1.0v2.7M553.2,387.1v-2.7M553.2,1.0v2.7M567.8,387.1v-5.4M567.8,1.0v5.4M349.1,373.1h2.7M582.4,373.1h-2.7M349.1,359.1h2.7M582.4,359.1h-2.7M349.1,345.0h2.7M582.4,345.0h-2.7M349.1,331.0h2.7M582.4,331.0h-2.7M349.1,316.9h5.4M582.4,316.9h-5.4M349.1,302.9h2.7M582.4,302.9h-2.7M349.1,288.9h2.7M582.4,288.9h-2.7M349.1,274.8h2.7M582.4,274.8h-2.7M349.1,260.8h2.7M582.4,260.8h-2.7M349.1,246.7h5.4M582.4,246.7h-5.4M349.1,232.7h2.7M582.4,232.7h-2.7M349.1,218.7h2.7M582.4,218.7h-2.7M349.1,204.6h2.7M582.4,204.6h-2.7M349.1,190.6h2.7M582.4,190.6h-2.7M349.1,176.5h5.4M582.4,176.5h-5.4M349.1,162.5h2.7M582.4,162.5h-2.7M349.1,148.5h2.7M582.4,148.5h-2.7M349.1,134.4h2.7M582.4,134.4h-2.7M349.1,120.4h2.7M582.4,120.4h-2.7M349.1,106.3h5.4M582.4,106.3h-5.4M349.1,92.3h2.7M582.4,92.3h-2.7M349.1,78.3h2.7M582.4,78.3h-2.7M349.1,64.2h2.7M582.4,64.2h-2.7M349.1,50.2h2.7M582.4,50.2h-2.7M349.1,36.1h5.4M582.4,36.1h-5.4M349.1,22.1h2.7M582.4,22.1h-2.7M349.1,8.1h2.7M582.4,8.1h-2.7" stroke="#000" stroke-width="1" fill="none"/>
<g stroke="#000" stroke-width="0.2">
<text x="349.1" y="400.1" font-size="11.1" text-anchor="middle">7</text>
<text x="422.0" y="400.1" font-size="11.1" text-anchor="middle">8</text>
<text x="494.9" y="400.1" font-size="11.1" text-anchor="middle">9</text>
<text x="567.8" y="400.1" font-size="11.1" text-anchor="middle">10</text>
<text transform="translate(342.9,35.8) rotate(-90)" font-size="11.1" text-anchor="middle" textLength="13.6" lengthAdjust="spacingAndGlyphs">−3</text>
<text transform="translate(342.9,106.0) rotate(-90)" font-size="11.1" text-anchor="middle" textLength="13.6" lengthAdjust="spacingAndGlyphs">−4</text>
<text transform="translate(342.9,176.2) rotate(-90)" font-size="11.1" text-anchor="middle" textLength="13.6" lengthAdjust="spacingAndGlyphs">−5</text>
<text transform="translate(342.9,246.4) rotate(-90)" font-size="11.1" text-anchor="middle" textLength="13.6" lengthAdjust="spacingAndGlyphs">−6</text>
<text transform="translate(342.9,316.6) rotate(-90)" font-size="11.1" text-anchor="middle" textLength="13.6" lengthAdjust="spacingAndGlyphs">−7</text>
<text transform="translate(342.9,386.8) rotate(-90)" font-size="11.1" text-anchor="middle" textLength="13.6" lengthAdjust="spacingAndGlyphs">−8</text>
<text x="456.9" y="420.3" font-size="10.3" textLength="21.2" lengthAdjust="spacingAndGlyphs">logM</text>
<circle cx="479.5" cy="421.4" r="1.45" fill="#000"/>
<g transform="translate(327.6,244.6) rotate(-90)" font-size="10"><text x="0" y="0" textLength="44.6" lengthAdjust="spacingAndGlyphs">log(n(&gt;M</text><circle cx="45.2" cy="0.6" r="1.4" fill="#000"/><text x="47.6" y="0" textLength="6.8" lengthAdjust="spacingAndGlyphs">))</text><text x="63.1" y="0" textLength="24.9" lengthAdjust="spacingAndGlyphs">(Mpc</text><text x="89.6" y="-5.9" font-size="7.8" textLength="10.4" lengthAdjust="spacingAndGlyphs">−3</text><text x="100.4" y="0" textLength="3.5" lengthAdjust="spacingAndGlyphs">)</text></g>
</g>
</g>
</svg>
</body></html>
